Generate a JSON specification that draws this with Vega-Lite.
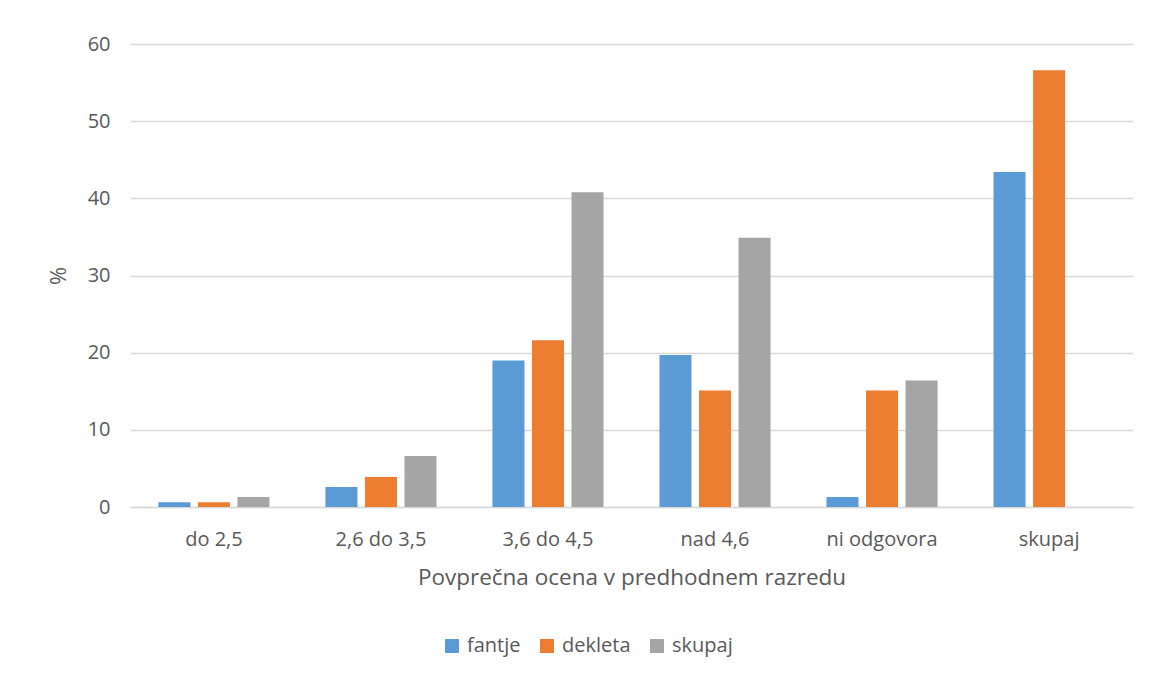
{
  "$schema": "https://vega.github.io/schema/vega-lite/v6.json",
  "autosize": {"type": "none"},
  "width": 1003,
  "height": 463,
  "padding": {"left": 130, "top": 44, "right": 16, "bottom": 170},
  "background": "white",
  "config": {
    "font": "Open Sans",
    "view": {"stroke": null},
    "axis": {"labelColor": "#595959", "titleColor": "#595959", "labelFont": "Open Sans", "titleFont": "Open Sans", "titleFontWeight": "normal"}
  },
  "data": {
    "values": [
      {"kat": "do 2,5", "skupina": "fantje", "v": 0.6},
      {"kat": "do 2,5", "skupina": "dekleta", "v": 0.6},
      {"kat": "do 2,5", "skupina": "skupaj", "v": 1.3},
      {"kat": "2,6 do 3,5", "skupina": "fantje", "v": 2.6},
      {"kat": "2,6 do 3,5", "skupina": "dekleta", "v": 3.9},
      {"kat": "2,6 do 3,5", "skupina": "skupaj", "v": 6.6},
      {"kat": "3,6 do 4,5", "skupina": "fantje", "v": 19.0},
      {"kat": "3,6 do 4,5", "skupina": "dekleta", "v": 21.6},
      {"kat": "3,6 do 4,5", "skupina": "skupaj", "v": 40.8},
      {"kat": "nad 4,6", "skupina": "fantje", "v": 19.7},
      {"kat": "nad 4,6", "skupina": "dekleta", "v": 15.1},
      {"kat": "nad 4,6", "skupina": "skupaj", "v": 34.9},
      {"kat": "ni odgovora", "skupina": "fantje", "v": 1.3},
      {"kat": "ni odgovora", "skupina": "dekleta", "v": 15.1},
      {"kat": "ni odgovora", "skupina": "skupaj", "v": 16.4},
      {"kat": "skupaj", "skupina": "fantje", "v": 43.4},
      {"kat": "skupaj", "skupina": "dekleta", "v": 56.6}
    ]
  },
  "mark": {"type": "bar"},
  "encoding": {
    "x": {
      "field": "kat", "type": "nominal",
      "sort": ["do 2,5", "2,6 do 3,5", "3,6 do 4,5", "nad 4,6", "ni odgovora", "skupaj"],
      "scale": {"paddingInner": 0.335, "paddingOuter": 0.17},
      "axis": {"title": "Povprečna ocena v predhodnem razredu", "labelAngle": 0, "labelFontSize": 20, "titleFontSize": 22.5, "labelPadding": 22, "titlePadding": 17, "ticks": false, "domainColor": "#d9d9d9", "domainWidth": 1.5}
    },
    "xOffset": {
      "field": "skupina", "type": "nominal",
      "sort": ["fantje", "dekleta", "skupaj"],
      "scale": {"paddingInner": 0.19}
    },
    "y": {
      "field": "v", "type": "quantitative",
      "scale": {"domain": [0, 60]},
      "axis": {"title": "%", "values": [0, 10, 20, 30, 40, 50, 60], "labelFontSize": 20, "titleFontSize": 22, "labelPadding": 20, "titlePadding": 17, "ticks": false, "domain": false, "gridColor": "#d9d9d9", "gridWidth": 1.3}
    },
    "color": {
      "field": "skupina", "type": "nominal",
      "sort": ["fantje", "dekleta", "skupaj"],
      "scale": {"domain": ["fantje", "dekleta", "skupaj"], "range": ["#5b9bd5", "#ed7d31", "#a5a5a5"]},
      "legend": {"title": null, "orient": "none", "direction": "horizontal", "legendX": 312, "legendY": 592, "symbolType": "square", "symbolSize": 196, "labelFontSize": 20, "labelColor": "#595959", "labelFont": "Open Sans", "columnPadding": 16, "labelOffset": 5, "symbolStrokeWidth": 0}
    }
  }
}
